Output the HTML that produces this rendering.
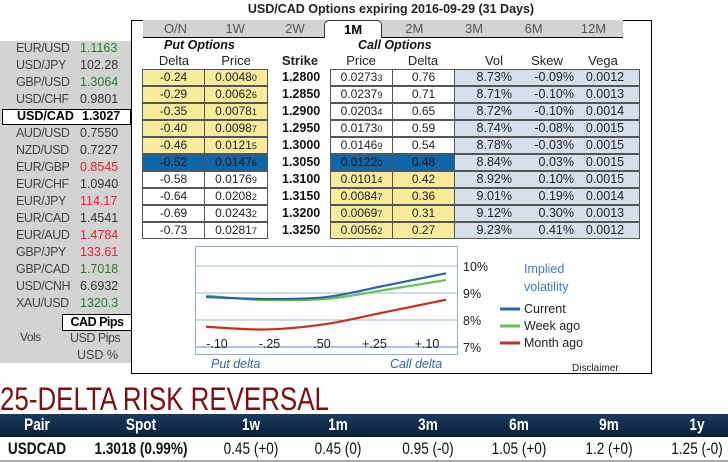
<!DOCTYPE html>
<html><head><meta charset="utf-8">
<style>
body{margin:0;width:728px;height:462px;overflow:hidden;background:#fff;font-family:"Liberation Sans",Arial,sans-serif;position:relative}
.a{position:absolute;white-space:nowrap}
.c{text-align:center}
.lp{position:absolute;font-size:12.5px;color:#333}
.cell{position:absolute;height:16px;border:1px solid #555;box-sizing:border-box;font-size:12px;text-align:center;line-height:15px;color:#222}
.y{background:#f8ec9c}.w{background:#fff}.b{background:#0f67a8;color:#111}.lb{background:#d6e0ec}
.tab{position:absolute;top:20px;height:17px;width:59px;text-align:center;font-size:13px;color:#555;line-height:18px}
.hdr{position:absolute;top:53px;font-size:13px;color:#222;text-align:center}
.rr{position:absolute;font-family:"Liberation Sans",sans-serif;font-size:17px;text-align:center;width:120px;transform:scaleX(0.8);transform-origin:center}
</style></head><body>
<div class="a" style="left:131px;top:2px;width:520px;text-align:center;font-weight:bold;font-size:12.5px;color:#222">USD/CAD Options expiring 2016-09-29 (31 Days)</div>

<div class="a" style="left:0;top:41px;width:131px;height:322px;background:#d3d3d3"></div>
<div id="pairs"></div>
<div class="a" style="left:2px;top:109px;width:129px;height:16px;border:1px solid #000;background:#fff;box-sizing:border-box"></div>
<div class="lp" style="left:17px;top:109px;font-weight:bold;color:#000">USD/CAD</div>
<div class="lp" style="left:82px;top:109px;font-weight:bold;color:#000">1.3027</div>
<div class="a" style="left:62px;top:314px;width:70px;height:17px;border:1px solid #000;background:#fff;box-sizing:border-box;font-weight:bold;font-size:12.5px;text-align:center;line-height:15px;letter-spacing:-0.5px">CAD Pips</div>
<div class="lp" style="left:20px;top:330px;font-size:12px;color:#444;letter-spacing:-0.5px">Vols</div>
<div class="lp" style="left:70px;top:331px;font-size:12.5px;color:#444;letter-spacing:-0.5px">USD Pips</div>
<div class="lp" style="left:77px;top:348px;font-size:12.5px;color:#444">USD %</div>

<div class="a" style="left:131px;top:20px;width:521px;height:354px;border:1px solid #000;box-sizing:border-box"></div>
<div class="a" style="left:143px;top:20px;width:480px;height:17px;background:#d3d3d3;border-bottom:1px solid #000"></div>
<div id="tabs"></div>
<div class="a" style="left:324px;top:20px;width:58px;height:18px;background:#fff;border:1px solid #333;border-bottom:none;border-radius:5px 5px 0 0;box-sizing:border-box;text-align:center;font-weight:bold;font-size:13px;line-height:18px">1M</div>

<div class="a" style="left:164px;top:38px;font-size:12.5px;font-weight:bold;font-style:italic;color:#111">Put Options</div>
<div class="a" style="left:358px;top:38px;font-size:12.5px;font-weight:bold;font-style:italic;color:#111">Call Options</div>
<div id="heads"></div>
<div id="rows"></div>

<svg class="a" style="left:0;top:0" width="728" height="462" id="chart"></svg>

<div class="a" style="left:0;top:381px;font-family:'Liberation Sans',sans-serif;font-size:32px;color:#7a1010;transform:scaleX(0.81);transform-origin:left">25-DELTA RISK REVERSAL</div>
<div class="a" style="left:0;top:414px;width:728px;height:23px;background:linear-gradient(#1b3a5c,#08203a)"></div>
<div class="a" style="left:0;top:437px;width:728px;height:25px;background:#fff;border-bottom:2px solid #aaa;box-sizing:border-box"></div>
<div id="rr"></div>

<script>
function mk(parent,tag,cls,style,text,name,inter){var e=document.createElement(tag);if(cls)e.className=cls;e.style.cssText=style;if(text!=null)e.textContent=text;


parent.appendChild(e);return e;}
var body=document.body;
var pairs=[["EUR/USD","1.1163","#2a7a2a"],["USD/JPY","102.28","#333"],["GBP/USD","1.3064","#2a7a2a"],["USD/CHF","0.9801","#333"],null,["AUD/USD","0.7550","#333"],["NZD/USD","0.7227","#333"],["EUR/GBP","0.8545","#e8202a"],["EUR/CHF","1.0940","#333"],["EUR/JPY","114.17","#e8202a"],["EUR/CAD","1.4541","#333"],["EUR/AUD","1.4784","#e8202a"],["GBP/JPY","133.61","#e8202a"],["GBP/CAD","1.7018","#2a7a2a"],["USD/CNH","6.6932","#333"],["XAU/USD","1320.3","#2a7a2a"]];
pairs.forEach(function(p,i){if(!p)return;var y=41+i*17;
mk(body,'div','lp','left:16px;top:'+y+'px;color:#444;letter-spacing:-0.4px',p[0],'pair-label','true');
mk(body,'div','lp','left:80px;top:'+y+'px;color:'+p[2],p[1],'pair-rate','false');});
var tabs=["O/N","1W","2W",null,"2M","3M","6M","12M"];
tabs.forEach(function(t,i){if(!t)return;mk(body,'div','tab','left:'+(146+i*59.7)+'px',t,'tab-'+t.toLowerCase().replace('/',''),'true');});
var heads=[["Delta",174],["Price",236],["Strike",300],["Price",361],["Delta",423],["Vol",494],["Skew",547],["Vega",603]];
heads.forEach(function(h){mk(body,'div','hdr','left:'+(h[1]-30)+'px;width:60px;'+(h[0]=="Strike"?'font-weight:bold;':''),h[0],'header-'+h[0].toLowerCase(),'false');});
var putDelta=["-0.24","-0.29","-0.35","-0.40","-0.46","-0.52","-0.58","-0.64","-0.69","-0.73"];
var putPrice=["0.0048","0.0062","0.0078","0.0098","0.0121","0.0147","0.0176","0.0208","0.0243","0.0281"];
var putSub=["0","6","1","7","5","6","9","2","2","7"];
var strikes=["1.2800","1.2850","1.2900","1.2950","1.3000","1.3050","1.3100","1.3150","1.3200","1.3250"];
var callPrice=["0.0273","0.0237","0.0203","0.0173","0.0146","0.0122","0.0101","0.0084","0.0069","0.0056"];
var callSub=["3","9","4","0","9","0","4","7","7","2"];
var callDelta=["0.76","0.71","0.65","0.59","0.54","0.48","0.42","0.36","0.31","0.27"];
var vols=["8.73%","8.71%","8.72%","8.74%","8.78%","8.84%","8.92%","9.01%","9.12%","9.23%"];
var skews=["-0.09%","-0.10%","-0.10%","-0.08%","-0.03%","0.03%","0.10%","0.19%","0.30%","0.41%"];
var vegas=["0.0012","0.0013","0.0014","0.0015","0.0015","0.0015","0.0015","0.0014","0.0013","0.0012"];
for(var i=0;i<10;i++){var y=69+i*17;
var pc=i<5?'y':(i==5?'b':'w'), cc=i<5?'w':(i==5?'b':'y');
mk(body,'div','cell '+pc,'left:142px;top:'+y+'px;width:63px;height:17px',putDelta[i],'put-delta-cell','false');
var e=mk(body,'div','cell '+pc,'left:204px;top:'+y+'px;width:64px;height:17px',putPrice[i],'put-price-cell','false');
var s=document.createElement('span');s.style.fontSize='9px';s.textContent=putSub[i];e.appendChild(s);
mk(body,'div','a','left:282px;top:'+(y+1)+'px;font-weight:bold;font-size:12.5px;color:#111',strikes[i],'strike-cell','false');
e=mk(body,'div','cell '+cc,'left:330px;top:'+y+'px;width:63px;height:17px',callPrice[i],'call-price-cell','false');
s=document.createElement('span');s.style.fontSize='9px';s.textContent=callSub[i];e.appendChild(s);
mk(body,'div','cell '+cc,'left:392px;top:'+y+'px;width:63px;height:17px',callDelta[i],'call-delta-cell','false');
mk(body,'div','cell lb','left:454px;top:'+y+'px;width:186px;height:17px','','vol-row-bg','false');
mk(body,'div','a','left:454px;top:'+(y+1)+'px;width:58px;text-align:right;font-size:12.5px;color:#222',vols[i],'vol-cell','false');
mk(body,'div','a','left:500px;top:'+(y+1)+'px;width:74px;text-align:right;font-size:12.5px;color:#222',skews[i],'skew-cell','false');
mk(body,'div','a','left:574px;top:'+(y+1)+'px;width:62px;text-align:center;font-size:12.5px;color:#222',vegas[i],'vega-cell','false');}

/* chart */
var categories=["-.10","-.25",".50","+.25","+.10"];
var currentVol=[8.85,8.78,8.85,9.28,9.73];
var weekAgoVol=[8.9,8.74,8.78,9.12,9.48];
var monthAgoVol=[7.75,7.65,7.85,8.3,8.75];
var yTicks=[10,9,8,7];
var svg=document.getElementById('chart'),NS='http://www.w3.org/2000/svg';
function yS(v){return 347-(v-7)*27;}
function xS(i){return 206+i*60;}
function xL(i){return 217+i*52.5;}
function el(t,a,name){var e=document.createElementNS(NS,t);for(var k in a)e.setAttribute(k,a[k]);


svg.appendChild(e);return e;}
el('rect',{x:195.5,y:246.5,width:262,height:108,fill:'#fff',stroke:'#8fb0d4'},'plot-area');
yTicks.forEach(function(t){el('line',{x1:196,x2:457,y1:yS(t),y2:yS(t),stroke:'#aec6e2','stroke-width':t==7?2:1.3},'gridline');
var tx=el('text',{x:463,y:yS(t)+5,'font-size':12.5,fill:'#222','font-family':'Liberation Sans'},'y-tick-label');tx.textContent=t+'%';});
categories.forEach(function(c,i){var tx=el('text',{x:xL(i),y:348,'font-size':12.5,fill:'#222','text-anchor':'middle','font-family':'Liberation Sans'},'x-tick-label');tx.textContent=c;});
function path(vals){var p=vals.map(function(v,i){return [xS(i),yS(v)];});var d='M'+p[0][0]+','+p[0][1];
for(var i=0;i<p.length-1;i++){var p0=p[i-1]||p[i],p1=p[i],p2=p[i+1],p3=p[i+2]||p2;
d+=' C'+(p1[0]+(p2[0]-p0[0])/6)+','+(p1[1]+(p2[1]-p0[1])/6)+' '+(p2[0]-(p3[0]-p1[0])/6)+','+(p2[1]-(p3[1]-p1[1])/6)+' '+p2[0]+','+p2[1];}return d;}
el('path',{d:path(monthAgoVol),fill:'none',stroke:'#c8301a','stroke-width':2.2},'series-month-ago');
el('path',{d:path(weekAgoVol),fill:'none',stroke:'#66c052','stroke-width':2.2},'series-week-ago');
el('path',{d:path(currentVol),fill:'none',stroke:'#2e64a6','stroke-width':2.2},'series-current');
function t(x,y,s,txt,fill,name,extra){var e=el('text',Object.assign({x:x,y:y,'font-size':s,fill:fill,'font-family':'Liberation Sans'},extra||{}),name);e.textContent=txt;}
t(211,368,12.5,'Put delta','#2e64a6','put-delta-label',{'font-style':'italic'});
t(390,368,12.5,'Call delta','#2e64a6','call-delta-label',{'font-style':'italic'});
t(524,273,12.5,'Implied','#3a7dc0','legend-title');
t(524,291,12.5,'volatility','#3a7dc0','legend-title');
[['Current','#2e64a6',309],['Week ago','#66c052',326],['Month ago','#c8301a',343]].forEach(function(l){
el('line',{x1:500,x2:520,y1:l[2],y2:l[2],stroke:l[1],'stroke-width':3},'legend-swatch');
t(524,l[2]+4,12.5,l[0],'#222','legend-entry');});
t(572,371,10,'Disclaimer','#222','disclaimer-link');

var rrHead=[["Pair",37],["Spot",141],["1w",251],["1m",338],["3m",428],["6m",519],["9m",609],["1y",697]];
var rrVals=["USDCAD","1.3018 (0.99%)","0.45 (+0)","0.45 (0)","0.95 (-0)","1.05 (+0)","1.2 (+0)","1.25 (-0)"];
var rrBox=document.getElementById('rr');
rrHead.forEach(function(h,i){
mk(rrBox,'div','rr','left:'+(h[1]-60)+'px;top:415px;color:#fff;font-weight:bold',h[0],'rr-header-'+h[0].toLowerCase(),'false');
mk(rrBox,'div','rr','left:'+(h[1]-60)+'px;top:439px;color:#111;'+(i<2?'font-weight:bold;':''),rrVals[i],'rr-value','false');});
</script>
</body></html>
